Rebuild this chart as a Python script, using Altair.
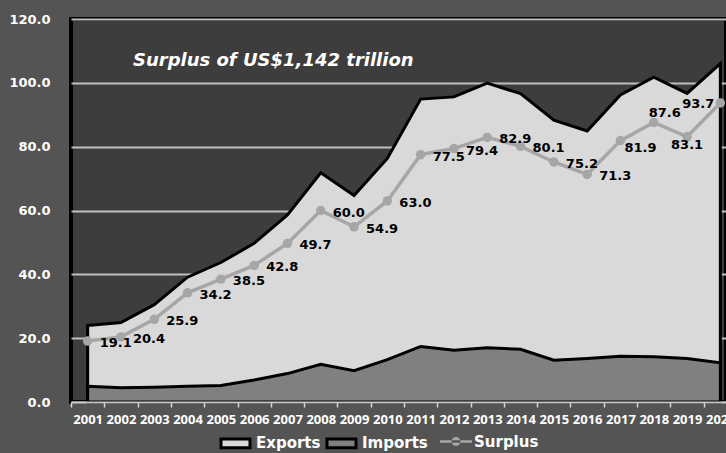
import altair as alt
import pandas as pd

years = ["2001", "2002", "2003", "2004", "2005", "2006", "2007", "2008", "2009", "2010",
         "2011", "2012", "2013", "2014", "2015", "2016", "2017", "2018", "2019", "2020"]
exports = [24.0, 24.9, 30.5, 39.1, 43.7, 49.7, 58.6, 71.8, 64.7, 76.3,
           94.9, 95.6, 99.9, 96.6, 88.3, 84.9, 96.2, 101.8, 96.7, 106.0]
imports = [4.9, 4.5, 4.6, 4.9, 5.2, 6.9, 8.9, 11.8, 9.8, 13.3,
           17.4, 16.2, 17.0, 16.5, 13.1, 13.6, 14.3, 14.2, 13.6, 12.3]
surplus = [19.1, 20.4, 25.9, 34.2, 38.5, 42.8, 49.7, 60.0, 54.9, 63.0,
           77.5, 79.4, 82.9, 80.1, 75.2, 71.3, 81.9, 87.6, 83.1, 93.7]
y_ticks = [0, 20, 40, 60, 80, 100, 120]
title_text = "Surplus of US$1,142 trillion"

df = pd.DataFrame({"year": years, "Exports": exports, "Imports": imports, "Surplus": surplus})

x_enc = alt.X(
    "year:O", sort=years, bandPosition=0.5, title=None,
    scale=alt.Scale(type="band", domain=years, range=[0, 666], paddingInner=0, paddingOuter=0),
    axis=alt.Axis(tickBand="extent", labelOverlap=False, labelAngle=0,
                  labelFont="Open Sans", labelFontWeight="bold", labelFontSize=13,
                  labelColor="white", labelPadding=6, tickSize=5, tickColor="#d9d9d9",
                  tickWidth=1.5, domainColor="#c8c8c8", domainWidth=2, zindex=1, grid=False),
)

y_scale = alt.Scale(domain=[0, 120], nice=False, zero=True)
y_axis = alt.Axis(values=y_ticks, format=".1f", labelFont="DejaVu Sans", labelFontWeight="bold",
                  labelFontSize=13, labelColor="white", labelPadding=21, ticks=False,
                  domain=False, grid=True, gridColor="#bfbfbf", gridWidth=2)

fill_scale = alt.Scale(domain=["Exports", "Imports"], range=["#d9d9d9", "#808080"])
legend_area = alt.Legend(orient="none", legendX=148.5, legendY=408, direction="horizontal",
                         symbolType="M-1,-0.3H1V0.3H-1Z", symbolSize=841,
                         symbolStrokeColor="black", symbolStrokeWidth=3, symbolOpacity=1,
                         labelColor="white", labelFont="DejaVu Sans", labelFontWeight="bold",
                         labelFontSize=15, labelOffset=4.5, columnPadding=0, padding=0)

exp_area = alt.Chart(df).transform_calculate(s="'Exports'").mark_area(
    stroke="black", strokeWidth=3, opacity=1, strokeJoin="miter"
).encode(
    x=x_enc,
    y=alt.Y("Exports:Q", scale=y_scale, axis=y_axis, title=None, stack=None),
    fill=alt.Fill("s:N", scale=fill_scale, legend=legend_area, title=None),
)
imp_area = alt.Chart(df).transform_calculate(s="'Imports'").mark_area(
    stroke="black", strokeWidth=3, opacity=1, strokeJoin="miter"
).encode(
    x=x_enc,
    y=alt.Y("Imports:Q", scale=y_scale, title=None, stack=None),
    fill=alt.Fill("s:N", scale=fill_scale, legend=legend_area, title=None),
)
areas = alt.layer(exp_area, imp_area)

line = alt.Chart(df).mark_line(color="#a6a6a6", strokeWidth=3.5).encode(
    x=x_enc, y=alt.Y("Surplus:Q", scale=y_scale, title=None)
)

legend_pt = alt.Legend(orient="none", legendX=369, legendY=406.5, direction="horizontal",
                       symbolType="M-1,-0.085H1V0.085H-1Z M-0.28,0A0.28,0.28 0 1,0 0.28,0A0.28,0.28 0 1,0 -0.28,0Z",
                       symbolSize=1024, symbolStrokeWidth=0, symbolOpacity=1,
                       labelColor="white", labelFont="DejaVu Sans", labelFontWeight="bold",
                       labelFontSize=15, labelOffset=2, padding=0)
points = alt.Chart(df).transform_calculate(s="'Surplus'").mark_circle(size=90, opacity=1).encode(
    x=x_enc, y=alt.Y("Surplus:Q", scale=y_scale, title=None),
    fill=alt.Fill("s:N", scale=alt.Scale(domain=["Surplus"], range=["#a6a6a6"]),
                  legend=legend_pt, title=None),
)


def labels(sel, align, dx, dy):
    return alt.Chart(df).transform_filter(
        alt.FieldOneOfPredicate(field="year", oneOf=sel)
    ).mark_text(font="DejaVu Sans", fontWeight="bold", fontSize=13, color="black",
                align=align, baseline="middle", dx=dx, dy=dy).encode(
        x=x_enc, y=alt.Y("Surplus:Q", scale=y_scale, title=None),
        text=alt.Text("Surplus:Q", format=".1f"),
    )


lab_main = labels(years[:16], "left", 12, 2)
lab_17 = labels(["2017"], "left", 4, 7)
lab_18 = labels(["2018"], "left", -5, -9)
lab_19 = labels(["2019"], "left", -16, 8)
lab_20 = labels(["2020"], "right", -6, 1)

title = alt.Chart(pd.DataFrame({"t": [title_text]})).mark_text(
    font="DejaVu Sans", fontStyle="italic", fontWeight="bold", fontSize=18, color="white",
    align="left", baseline="alphabetic"
).encode(x=alt.value(62), y=alt.value(47), text="t:N")

chart = alt.layer(
    areas, line, points, lab_main, lab_17, lab_18, lab_19, lab_20, title
).resolve_scale(fill="independent").properties(
    width=655, height=383,
    autosize=alt.AutoSizeParams(type="none"),
    padding={"left": 71, "top": 19, "right": 0, "bottom": 51},
    background="#545454",
).configure_view(fill="#3d3d3d", stroke="black", strokeWidth=4)

chart.save("out.html", embed_options={"renderer": "svg", "actions": False})
